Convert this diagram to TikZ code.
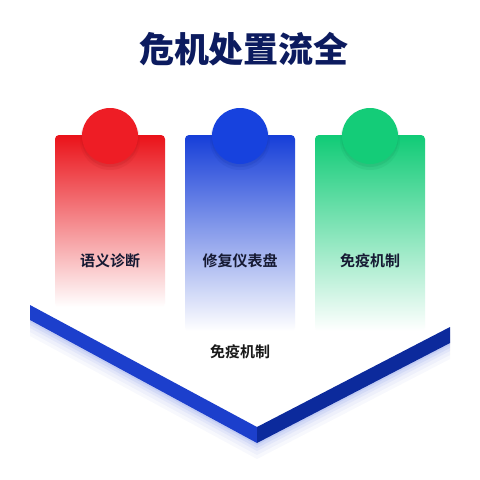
\documentclass[tikz,border=0pt]{standalone}
\usepackage{fontspec}
\setmainfont{Noto Sans CJK SC}[BoldFont={Noto Sans CJK SC Bold}]
\newfontfamily\titlefont{Noto Sans CJK SC Black}
\definecolor{cred}{HTML}{EA1219}
\definecolor{credc}{HTML}{EE1D25}
\definecolor{cblue}{HTML}{163ED8}
\definecolor{cbluec}{HTML}{1742DE}
\definecolor{cgreen}{HTML}{10CB76}
\definecolor{cgreenc}{HTML}{14CC78}
\definecolor{navy}{HTML}{0C1B5F}
\definecolor{faceL}{HTML}{1C3FCC}
\definecolor{faceR}{HTML}{0C2A9C}
\definecolor{labelc}{HTML}{161A33}
\tikzset{
  card/.style={rectangle, rounded corners=4pt, minimum width=110pt, inner sep=0pt, draw=none},
  disc/.style={circle, minimum size=56pt, inner sep=0pt, draw=none},
  lbl/.style={font=\bfseries\fontsize{15}{15}\selectfont, text=labelc, inner sep=0pt},
}
\begin{document}
\begin{tikzpicture}[x=1pt,y=-1pt]
\useasboundingbox (0,0) rectangle (480,480);
\fill[white] (0,0) rectangle (480,480);
% title
\node[font=\titlefont\fontsize{35}{35}\selectfont, text=navy, inner sep=0pt] (title) at (244,49) {危机处置流全};
% V glow
\foreach \d/\o in {16/0.03,12/0.04,8/0.05,5/0.07,2/0.09}{
  \fill[cblue, opacity=\o] (30,{305+\d}) -- (257,{427+\d}) -- (450,{327+\d}) -- (450,{343+\d}) -- (257,{443+\d}) -- (30,{320+\d}) -- cycle;
}
% V faces
\fill[faceL] (30,305) -- (257,427) -- (257,443) -- (30,320) -- cycle;
\fill[faceR] (257,427) -- (450,327) -- (450,343) -- (257,443) -- cycle;
% cards
\node[card, minimum height=172pt, top color=cred, middle color=cred!68, bottom color=white] (c1) at (110,221) {};
\node[card, minimum height=196pt, top color=cblue, middle color=cblue!72, bottom color=white] (c2) at (240,233) {};
\node[card, minimum height=196pt, top color=cgreen, middle color=cgreen!70, bottom color=white] (c3) at (370,233) {};
% circles with shadow
\foreach \x/\c/\n in {110/credc/k1,240/cbluec/k2,370/cgreenc/k3}{
  \fill[\c!70!black, opacity=0.10] (\x,140) circle (30);
  \fill[\c!70!black, opacity=0.15] (\x,138.5) circle (28.5);
  \node[disc, fill=\c] (\n) at (\x,136) {};
}
% labels
\node[lbl] (l1) at (110,261) {语义诊断};
\node[lbl] (l2) at (240,261) {修复仪表盘};
\node[lbl] (l3) at (370,261) {免疫机制};
\node[lbl, text=black!90] (base) at (240,352) {免疫机制};
\end{tikzpicture}
\end{document}
